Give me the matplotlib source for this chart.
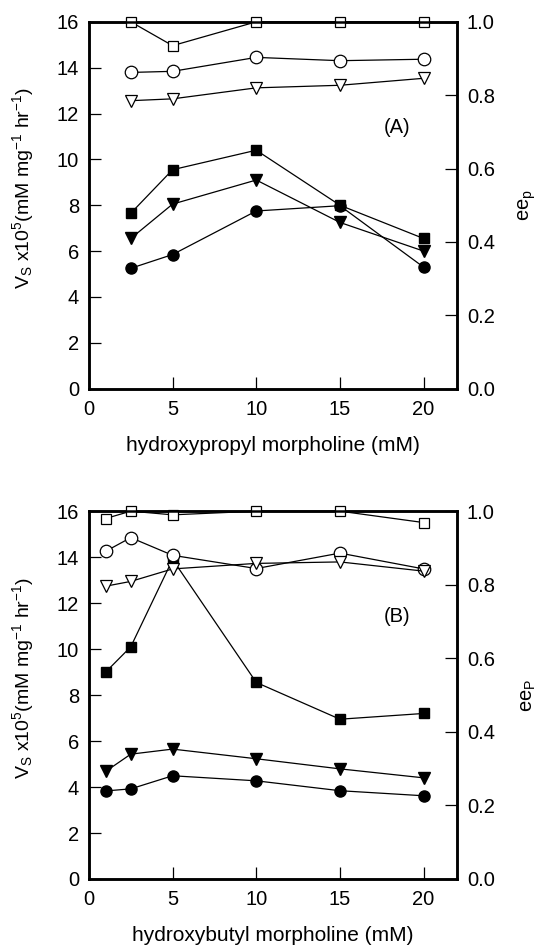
import matplotlib
matplotlib.use("Agg")
import matplotlib.pyplot as plt

plt.rcParams['font.family'] = ['Liberation Sans', 'DejaVu Sans']
plt.rcParams['mathtext.fontset'] = 'custom'
plt.rcParams['mathtext.rm'] = 'Liberation Sans'
plt.rcParams['mathtext.it'] = 'Liberation Sans'
plt.rcParams['font.size'] = 14

# panel A: hydroxypropyl morpholine
xa = [2.5, 5, 10, 15, 20]
vs_sq_a = [7.65, 9.55, 10.4, 8.0, 6.55]
vs_tri_a = [6.55, 8.05, 9.1, 7.25, 6.0]
vs_circ_a = [5.25, 5.85, 7.75, 7.98, 5.3]
ee_sq_a = [1.0, 0.935, 1.0, 1.0, 1.0]
ee_circ_a = [0.862, 0.865, 0.903, 0.894, 0.898]
ee_tri_a = [0.785, 0.79, 0.82, 0.827, 0.846]

# panel B: hydroxybutyl morpholine
xb = [1, 2.5, 5, 10, 15, 20]
vs_sq_b = [9.0, 10.1, 13.9, 8.55, 6.95, 7.2]
vs_tri_b = [4.68, 5.43, 5.65, 5.23, 4.79, 4.4]
vs_circ_b = [3.83, 3.92, 4.49, 4.27, 3.84, 3.62]
ee_sq_b = [0.98, 1.0, 0.99, 1.0, 1.0, 0.969]
ee_circ_b = [0.891, 0.928, 0.88, 0.844, 0.886, 0.843]
ee_tri_b = [0.796, 0.809, 0.843, 0.858, 0.862, 0.837]

fig = plt.figure(figsize=(5.39, 9.48), dpi=100)


def panel(rect, x, vs_sq, vs_tri, vs_circ, ee_sq, ee_circ, ee_tri, tag, xlab, eelab):
    ax = fig.add_axes(rect)
    ax2 = ax.twinx()
    kw = dict(color='black', lw=0.9)
    ax.plot(x, vs_sq, marker='s', ms=7, mfc='black', **kw)
    ax.plot(x, vs_tri, marker='v', ms=8, mfc='black', **kw)
    ax.plot(x, vs_circ, marker='o', ms=8, mfc='black', **kw)
    ax2.plot(x, ee_sq, marker='s', ms=7, mfc='white', mew=0.9, clip_on=False, **kw)
    ax2.plot(x, ee_circ, marker='o', ms=9, mfc='white', mew=0.9, clip_on=False, **kw)
    ax2.plot(x, ee_tri, marker='v', ms=8, mfc='white', mew=0.9, clip_on=False, **kw)
    ax.set_xlim(0, 22)
    ax.set_ylim(0, 16)
    ax2.set_ylim(0, 1.0)
    ax.set_xticks([0, 5, 10, 15, 20])
    ax.set_yticks(range(0, 17, 2))
    ax2.set_yticks([0.0, 0.2, 0.4, 0.6, 0.8, 1.0])
    ax2.set_yticklabels(['0.0', '0.2', '0.4', '0.6', '0.8', '1.0'])
    ax.tick_params(direction='in', length=8.5, width=0.9, pad=7, labelsize=14.5)
    ax.tick_params(axis='x', pad=8)
    ax2.tick_params(direction='in', length=8.5, width=0.9, pad=7, labelsize=14.5)
    for a in (ax, ax2):
        for s in a.spines.values():
            s.set_linewidth(1.8)
    ax.set_xlabel(xlab, fontsize=15, va='top')
    ax.xaxis.set_label_coords(0.5, -0.128)
    ax.set_ylabel(r'V$_\mathrm{S}$ x10$^5$(mM mg$^{-1}$ hr$^{-1}$)', fontsize=14)
    ax.yaxis.set_label_coords(-0.145, 0.547)
    ax2.set_ylabel(eelab, fontsize=14.5, rotation=90, va='bottom')
    ax2.yaxis.set_label_coords(1.22, 0.5)
    ax.text(18.4, 11.4, tag, ha='center', va='center', fontsize=14.5)
    ax2.set_zorder(ax.get_zorder() + 1)
    ax2.patch.set_visible(False)


panel([0.165, 0.590, 0.683, 0.387], xa, vs_sq_a, vs_tri_a, vs_circ_a,
      ee_sq_a, ee_circ_a, ee_tri_a, '(A)', 'hydroxypropyl morpholine (mM)', r'ee$_\mathrm{p}$')
panel([0.165, 0.0728, 0.683, 0.388], xb, vs_sq_b, vs_tri_b, vs_circ_b,
      ee_sq_b, ee_circ_b, ee_tri_b, '(B)', 'hydroxybutyl morpholine (mM)', r'ee$_\mathrm{P}$')

fig.savefig('out.png', dpi=100)
